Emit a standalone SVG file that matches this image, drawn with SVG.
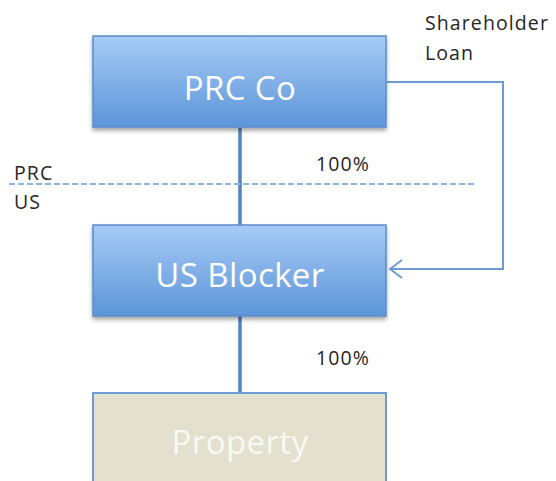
<svg xmlns="http://www.w3.org/2000/svg" width="556" height="481" viewBox="0 0 556 481">
<style>
.box{fill:url(#blue);stroke:#5a8ccb;stroke-width:1.5}
.prop{fill:#e3e0cd;stroke:#6d9ad4;stroke-width:2}
.big{font-family:"Open Sans","Liberation Sans",sans-serif;font-size:33px;letter-spacing:0.4px;fill:#ffffff;text-anchor:middle}
.lbl{font-family:"Open Sans","Liberation Sans",sans-serif;font-size:19.5px;letter-spacing:1.1px;fill:#262626}
.own{fill:none;stroke:#4f83c4;stroke-width:3.5}
.loan{fill:none;stroke:#6d9bd6;stroke-width:2}
.div{fill:none;stroke:#8db3e2;stroke-width:2.2;stroke-dasharray:6,3}
</style>
<defs>
<linearGradient id="blue" x1="0" y1="0" x2="0" y2="1">
<stop offset="0" stop-color="#a7cbf6"/>
<stop offset="1" stop-color="#5c95d8"/>
</linearGradient>
<filter id="sh" x="-10%" y="-10%" width="120%" height="130%">
<feGaussianBlur in="SourceAlpha" stdDeviation="2"/>
<feOffset dy="3"/>
<feComponentTransfer><feFuncA type="linear" slope="0.35"/></feComponentTransfer>
<feMerge><feMergeNode/><feMergeNode in="SourceGraphic"/></feMerge>
</filter>
</defs>
<g id="connectors">
<line class="own" x1="240" y1="126" x2="240" y2="226"/>
<line class="own" x1="240" y1="316" x2="240" y2="394"/>
<polyline class="loan" points="387,82 503,82 503,269 391,269"/>
<path class="loan" d="M402,260 L390,269 L402,278" stroke-width="2.5"/>
<line class="div" x1="9" y1="184" x2="476" y2="184"/>
</g>
<g id="prc-co">
<rect class="box" x="93" y="36" width="293" height="91" filter="url(#sh)"/>
<text class="big" x="240" y="100">PRC Co</text>
</g>
<g id="us-blocker">
<rect class="box" x="93" y="225" width="293" height="91" filter="url(#sh)"/>
<text class="big" x="240" y="287">US Blocker</text>
</g>
<g id="property">
<rect class="prop" x="93" y="393" width="293" height="95"/>
<text class="big" x="240" y="454" fill-opacity="0.8">Property</text>
</g>
<g id="labels">
<text class="lbl" x="425" y="30">Shareholder</text>
<text class="lbl" x="425" y="60">Loan</text>
<text class="lbl" x="316" y="171">100%</text>
<text class="lbl" x="316" y="365">100%</text>
<text class="lbl" x="14" y="180">PRC</text>
<text class="lbl" x="14" y="209">US</text>
</g>
</svg>
